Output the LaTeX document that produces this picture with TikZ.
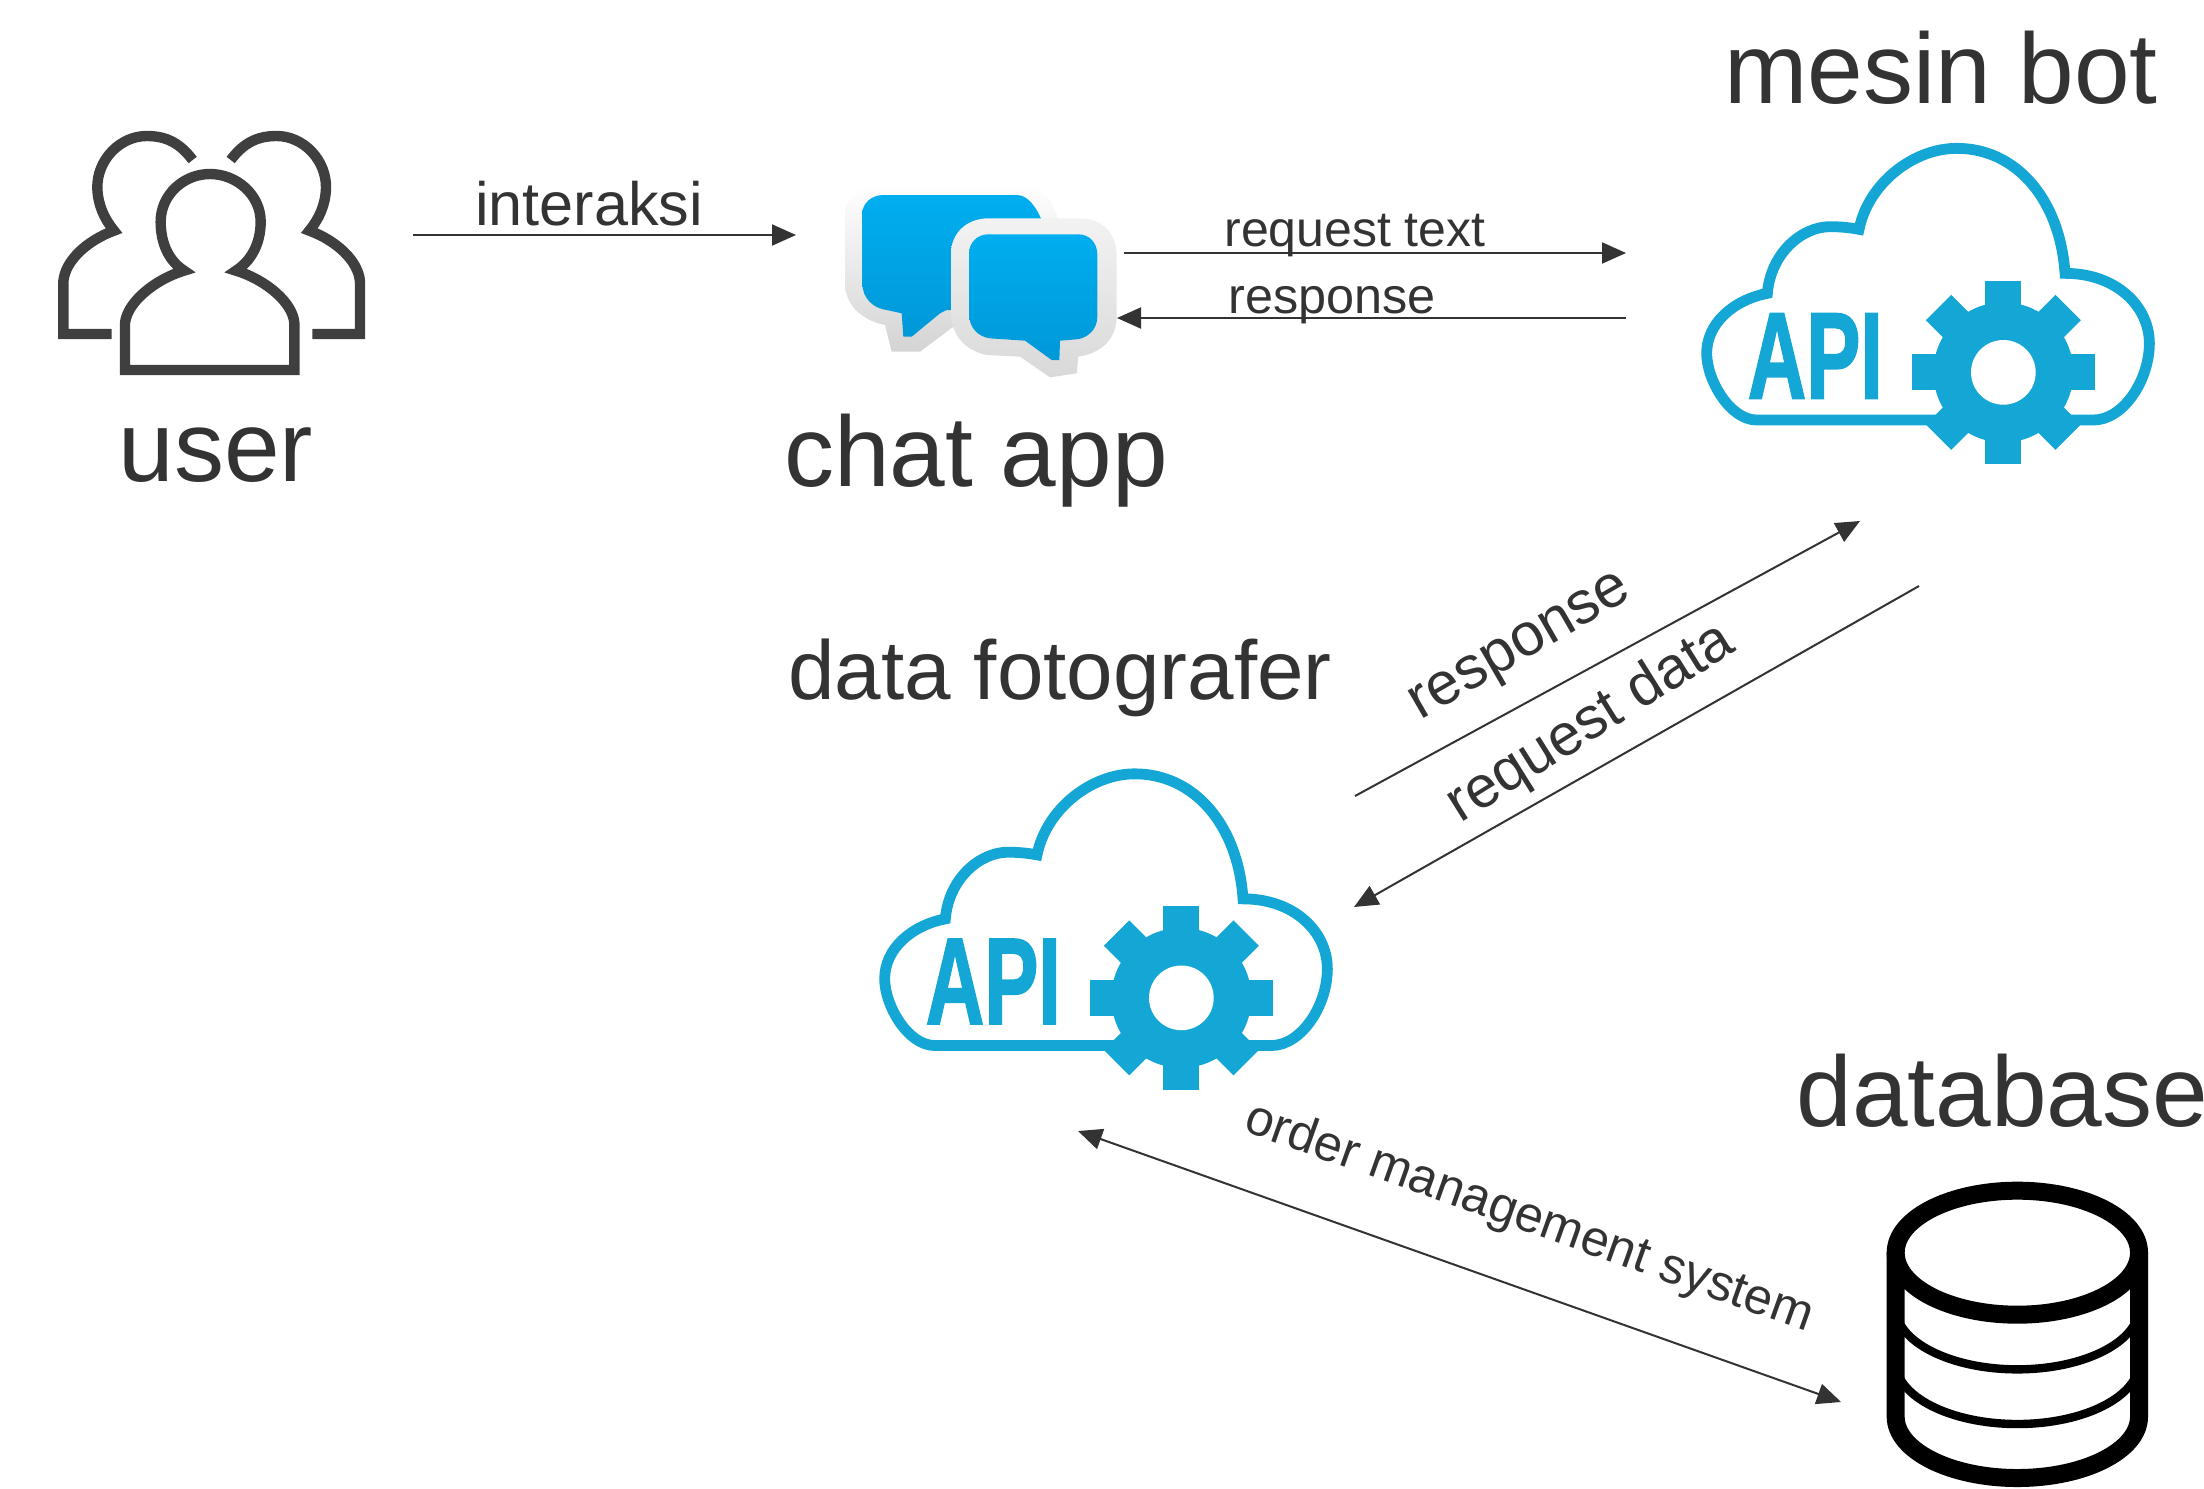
\documentclass[tikz,border=0pt]{standalone}
\usepackage{graphicx}
\usepackage{fontspec}
\setmainfont{Liberation Sans}
\usetikzlibrary{arrows.meta}
\definecolor{ink}{HTML}{333333}
\definecolor{cloudblue}{HTML}{14A7D6}
\definecolor{usergray}{HTML}{3F3F3F}
\tikzset{
  big/.style={font=\fontsize{50}{60}\selectfont,text=ink,inner sep=0pt,anchor=base},
  midlabel/.style={font=\fontsize{#1}{#1}\selectfont,text=ink,inner sep=0pt,anchor=base},
  tilted/.style={font=\fontsize{#1}{#1}\selectfont,text=ink,inner sep=0pt},
  conn/.style={draw=ink,line width=1pt,-{Triangle[length=12pt,width=10.5pt]}},
  conntwo/.style={draw=ink,line width=1pt,{Triangle[length=12pt,width=10.5pt]}-{Triangle[length=12pt,width=10.5pt]}},
  iconunits/.style={x=0.16667pt,y=-0.16667pt},
  pics/apicloud/.style={code={
    \begin{scope}[iconunits]
      \draw[cloudblue,line width=5.4pt,miter limit=10]
        (770,870) -- (230,870) .. controls (150,870) and (80,750) .. (80,670)
        .. controls (80,580) and (160,510) .. (262,490)
        .. controls (272,370) and (365,290) .. (450,290)
        .. controls (480,290) and (510,293) .. (537,298)
        .. controls (565,160) and (700,55) .. (830,55)
        .. controls (1010,55) and (1140,210) .. (1155,430)
        .. controls (1310,430) and (1408,530) .. (1408,640)
        .. controls (1408,750) and (1330,870) .. (1240,870) -- (1170,870);
      \begin{scope}[shift={(970,727)}]
        \fill[cloudblue] (0,0) circle[radius=210];
        \foreach \a in {0,45,...,315}{
          \fill[cloudblue,rotate=\a] (-54,-150) -- (54,-150) -- (54,-275) -- (-54,-275) -- cycle;
        }
        \fill[white] (0,0) circle[radius=97];
      \end{scope}
      \node[inner sep=0pt,anchor=base,text=cloudblue] at (406,805)
        {\scalebox{0.66}[1]{\fontspec{Liberation Sans}[FakeBold=1.6]\fontsize{61.5}{62}\selectfont\bfseries API}};
    \end{scope}
  }},
  pics/userstrio/.style={code={
    \begin{scope}[iconunits]
      \draw[usergray,line width=5.2pt,miter limit=12]
        (462,482) .. controls (420,455) and (392,405) .. (392,335)
        .. controls (392,255) and (460,192) .. (540,192)
        .. controls (620,192) and (692,255) .. (692,335)
        .. controls (692,405) and (660,455) .. (618,482)
        .. controls (710,510) and (790,580) .. (793,640)
        -- (793,780) -- (285,780) -- (285,640)
        .. controls (290,580) and (370,510) .. (462,482) -- cycle;
      \draw[usergray,line width=5.2pt,miter limit=12]
        (488,150) .. controls (450,100) and (410,78) .. (350,78)
        .. controls (270,78) and (200,150) .. (202,235)
        .. controls (204,285) and (222,325) .. (252,362)
        .. controls (175,390) and (105,450) .. (100,515)
        -- (100,672) -- (245,672);
      \draw[usergray,line width=5.2pt,miter limit=12]
        (602,150) .. controls (640,100) and (680,78) .. (740,78)
        .. controls (820,78) and (890,150) .. (888,235)
        .. controls (886,285) and (868,325) .. (838,362)
        .. controls (915,390) and (985,450) .. (990,515)
        -- (990,672) -- (847,672);
    \end{scope}
  }},
  pics/chaticon/.style={code={
    \begin{scope}[iconunits]
      \shade[top color=white,bottom color=black!17]
        (190,42) -- (600,42) .. controls (660,42) and (700,90) .. (715,150) -- (715,450) -- (400,470)
        -- (300,545) -- (215,545) -- (195,465)
        .. controls (120,450) and (75,400) .. (75,340) -- (75,130)
        .. controls (75,80) and (130,42) .. (190,42) -- cycle;
      \shade[top color=chattop,bottom color=chatlow]
        (190,75) -- (590,75) .. controls (625,75) and (650,115) .. (665,150) -- (665,420) -- (380,420)
        -- (360,430) -- (275,500) -- (250,500) -- (245,430) -- (200,420)
        .. controls (160,415) and (127,385) .. (127,340) -- (127,130)
        .. controls (127,100) and (155,75) .. (190,75) -- cycle;
      \shade[top color=black!5,bottom color=black!15]
        (505,145) -- (780,145) .. controls (850,145) and (890,195) .. (890,255) -- (890,440)
        .. controls (890,510) and (840,550) .. (775,560) -- (770,610) -- (690,622) -- (600,560) -- (500,555)
        .. controls (430,540) and (393,490) .. (393,430) -- (393,250)
        .. controls (393,190) and (440,145) .. (505,145) -- cycle;
      \shade[top color=chattop,bottom color=chatlow]
        (505,193) -- (775,193) .. controls (810,193) and (832,220) .. (832,255) -- (832,440)
        .. controls (832,480) and (800,505) .. (770,508) -- (720,512) -- (718,570) -- (695,570)
        -- (615,512) -- (510,505) .. controls (475,500) and (447,475) .. (447,430) -- (447,250)
        .. controls (447,220) and (470,193) .. (505,193) -- cycle;
    \end{scope}
  }},
  pics/dbstack/.style={code={
    \begin{scope}[iconunits]
      \draw[black,line width=9pt] (472,278) ellipse[x radius=365,y radius=186];
      \draw[black,line width=9pt] (107,278) -- (107,770)
        arc[start angle=180,end angle=0,x radius=365,y radius=184] -- (837,278);
      \draw[black,line width=4.2pt] (107,442)
        arc[start angle=180,end angle=0,x radius=365,y radius=186];
      \draw[black,line width=4.2pt] (107,606)
        arc[start angle=180,end angle=0,x radius=365,y radius=186];
    \end{scope}
  }}
}
\definecolor{chattop}{HTML}{00AEEF}
\definecolor{chatlow}{HTML}{0098D8}
\begin{document}
\begin{tikzpicture}[x=0.5pt,y=-0.5pt]
  \useasboundingbox (0,0) rectangle (2204,1488);
  \pic (users) at (30,110) {userstrio};
  \pic (chat) at (820,170) {chaticon};
  \pic (bot) at (1680,130) {apicloud};
  \pic (foto) at (858,755.5) {apicloud};
  \pic (db) at (1860,1160) {dbstack};

  \node[big] (userlabel) at (216,481) {user};
  \node[big] (chatlabel) at (976,486) {chat app};
  \node[big] (botlabel) at (1941,103) {mesin bot};
  \node[big,font=\fontsize{41.8}{50}\selectfont] (fotolabel) at (1060,699) {data fotografer};
  \node[big,anchor=base west] (dblabel) at (1796,1126) {database};

  \node[midlabel=30.6] (interaksilabel) at (589,225) {interaksi};
  \node[midlabel=25] (reqtextlabel) at (1355,246) {request text};
  \node[midlabel=25.2] (resplabel) at (1332,313) {response};
  \node[tilted=30,rotate=30] (diagresplabel) at (1522,650) {response};
  \node[tilted=29.4,rotate=32] (reqdatalabel) at (1591,724) {request data};
  \node[tilted=25.2,rotate=-19.6] (orderlabel) at (1529,1219) {order management system};

  \coordinate (a1) at (413,235);   \coordinate (a2) at (796,235);
  \coordinate (b1) at (1124,253);  \coordinate (b2) at (1626,253);
  \coordinate (c1) at (1626,318);  \coordinate (c2) at (1117,318);
  \coordinate (d1) at (1355,796);  \coordinate (d2) at (1860,521);
  \coordinate (e1) at (1919,586);  \coordinate (e2) at (1354,907);
  \coordinate (f1) at (1078,1131); \coordinate (f2) at (1841,1402);

  \draw[conn] (a1) -- (a2);
  \draw[conn] (b1) -- (b2);
  \draw[conn] (c1) -- (c2);
  \draw[conn] (d1) -- (d2);
  \draw[conn] (e1) -- (e2);
  \draw[conntwo] (f1) -- (f2);
\end{tikzpicture}
\end{document}
